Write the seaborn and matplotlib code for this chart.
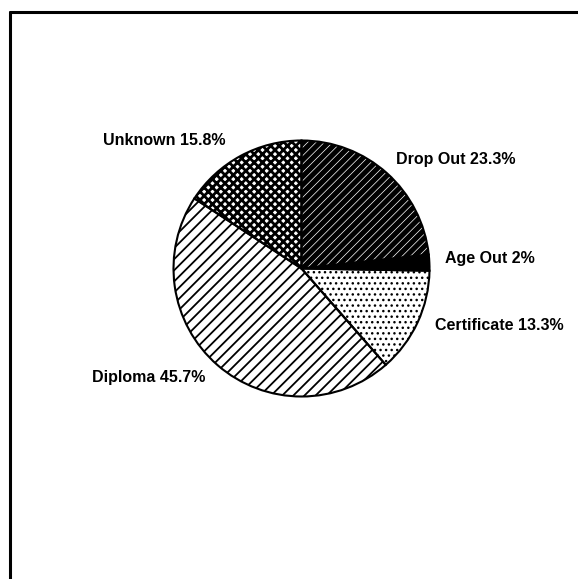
import matplotlib
matplotlib.use("Agg")
import matplotlib.pyplot as plt
import seaborn as sns
from matplotlib.lines import Line2D

# --- data ---
categories = ["Drop Out", "Age Out", "Certificate", "Diploma", "Unknown"]
percents = [23.3, 2, 13.3, 45.7, 15.8]

# --- styles (one per slice) ---
face_colors = ["black", "black", "white", "white", "white"]
hatch_colors = ["white", "black", "black", "black", "black"]
hatches = ["////", "", "...", "///", "xxxx"]
hatch_widths = [0.5, 1.0, 1.0, 1.3, 2.0]

# label anchors in pie-radius units, plus alignment
label_xy = [(0.738, 0.815), (1.121, 0.043), (1.043, -0.480), (-0.754, -0.887), (-1.551, 0.965)]
label_ha = ["left", "left", "left", "right", "left"]

sns.set_theme(style="white")
plt.rcParams["font.family"] = ["Liberation Sans", "DejaVu Sans"]
plt.rcParams["hatch.linewidth"] = 1.2

fig = plt.figure(figsize=(5.78, 5.79), dpi=100)
ax = fig.add_axes([0, 0, 1, 1])

# filled / hatched wedges
wedges, _ = ax.pie(percents, startangle=90, counterclock=False,
                   colors=face_colors, hatch=hatches,
                   wedgeprops=dict(linewidth=0))
for w, hc, hw in zip(wedges, hatch_colors, hatch_widths):
    w.set_edgecolor(hc)
    w.set_linewidth(0)
    if hasattr(w, "set_hatch_linewidth"):
        w.set_hatch_linewidth(hw)

# outlines on top
ax.pie(percents, startangle=90, counterclock=False,
       wedgeprops=dict(fill=False, edgecolor="black", linewidth=1.5))

for cat, pct, (x, y), ha in zip(categories, percents, label_xy, label_ha):
    ax.text(x, y, f"{cat} {pct:g}%", ha=ha, va="baseline",
            fontsize=11.5, fontweight="bold", color="black")

# pie centre sits at (301.5, 268.5) px of the page, radius 128 px
r_px = 128.0
ax.set_xlim(-301.5 / r_px, (578 - 301.5) / r_px)
ax.set_ylim(-(579 - 268.5) / r_px, 268.5 / r_px)
ax.set_aspect("auto")
ax.set_axis_off()

# page frame: left and top edges of the scanned box
x0 = 10 / 578
y0 = 1 - 11.5 / 579
fig.add_artist(Line2D([x0, x0], [0, y0], transform=fig.transFigure, color="black", lw=2.2))
fig.add_artist(Line2D([x0, 1], [y0, y0], transform=fig.transFigure, color="black", lw=2.2))

fig.savefig("out.png", dpi=100, facecolor="white")
